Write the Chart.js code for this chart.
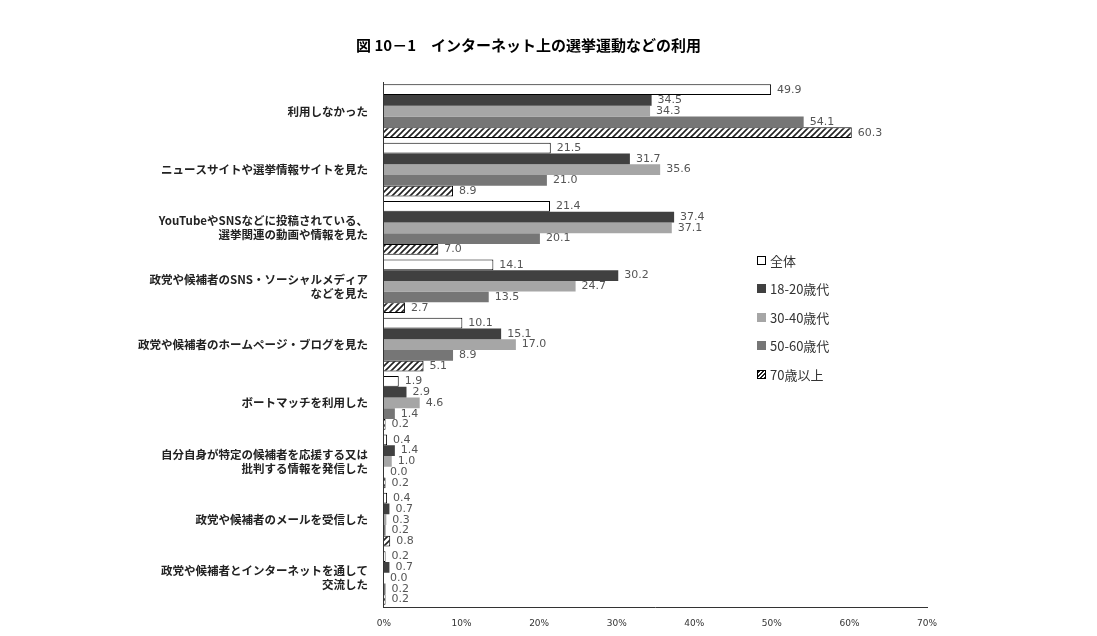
<!DOCTYPE html>
<html><head><meta charset="utf-8">
<script src="https://cdn.jsdelivr.net/npm/chart.js@4"></script>
<style>
body{margin:0;background:#fff;font-family:"Noto Sans CJK JP",sans-serif}
#wrap{position:relative;width:1097px;height:636px}
#legend{position:absolute;left:757px;top:246px;font-size:13px;color:#333}
#legend div{height:28.5px;display:flex;align-items:center}
#legend span{display:inline-block;width:9px;height:9px;margin-right:4px;border:1px solid #000;box-sizing:border-box}
</style></head><body>
<div id="wrap"><canvas id="c" width="1097" height="636"></canvas>
<div id="legend"></div></div>
<script>
const categories = [
  "利用しなかった",
  "ニュースサイトや選挙情報サイトを見た",
  ["YouTubeやSNSなどに投稿されている、", "選挙関連の動画や情報を見た"],
  ["政党や候補者のSNS・ソーシャルメディア", "などを見た"],
  "政党や候補者のホームページ・ブログを見た",
  "ボートマッチを利用した",
  ["自分自身が特定の候補者を応援する又は", "批判する情報を発信した"],
  "政党や候補者のメールを受信した",
  ["政党や候補者とインターネットを通して", "交流した"]
];
const seriesNames = ["全体", "18-20歳代", "30-40歳代", "50-60歳代", "70歳以上"];
const allAges = [49.9, 21.5, 21.4, 14.1, 10.1, 1.9, 0.4, 0.4, 0.2];
const age1820 = [34.5, 31.7, 37.4, 30.2, 15.1, 2.9, 1.4, 0.7, 0.7];
const age3040 = [34.3, 35.6, 37.1, 24.7, 17.0, 4.6, 1.0, 0.3, 0.0];
const age5060 = [54.1, 21.0, 20.1, 13.5, 8.9, 1.4, 0.0, 0.2, 0.2];
const age70 = [60.3, 8.9, 7.0, 2.7, 5.1, 0.2, 0.2, 0.8, 0.2];
const xTicks = [0, 10, 20, 30, 40, 50, 60, 70];

// 斜線パターン
function hatch() {
  const p = document.createElement('canvas');
  p.width = 6; p.height = 6;
  const g = p.getContext('2d');
  g.fillStyle = '#fff'; g.fillRect(0, 0, 6, 6);
  g.strokeStyle = '#222'; g.lineWidth = 1.6;
  g.beginPath(); g.moveTo(0, 6); g.lineTo(6, 0); g.moveTo(-3, 3); g.lineTo(3, -3); g.moveTo(3, 9); g.lineTo(9, 3); g.stroke();
  return g.createPattern(p, 'repeat');
}
const ctx = document.getElementById('c').getContext('2d');
const fills = ['#ffffff', '#404040', '#a6a6a6', '#767676', hatch()];
const datas = [allAges, age1820, age3040, age5060, age70];

const valueLabels = {
  id: 'valueLabels',
  afterDatasetsDraw(chart) {
    const c = chart.ctx;
    c.save();
    c.font = '11px "DejaVu Sans"';
    c.fillStyle = '#555';
    c.textBaseline = 'middle';
    chart.data.datasets.forEach((ds, i) => {
      chart.getDatasetMeta(i).data.forEach((bar, j) => {
        c.fillText(ds.data[j].toFixed(1), bar.x + 6, bar.y);
      });
    });
    c.restore();
  }
};

new Chart(ctx, {
  type: 'bar',
  data: {
    labels: categories,
    datasets: seriesNames.map((n, i) => ({
      label: n, data: datas[i], backgroundColor: fills[i],
      borderColor: i === 0 || i === 4 ? '#000' : fills[i],
      borderWidth: i === 0 || i === 4 ? 1 : 0
    }))
  },
  options: {
    indexAxis: 'y',
    responsive: false,
    animation: false,
    categoryPercentage: 0.92,
    barPercentage: 1,
    layout: { padding: { left: 130, right: 170, top: 8, bottom: 4 } },
    plugins: {
      legend: { display: false },
      tooltip: { enabled: false },
      title: {
        display: true, text: '図 10－1　インターネット上の選挙運動などの利用',
        font: { size: 15, weight: 'bold', family: '"Noto Sans CJK JP"' },
        color: '#000', padding: { top: 28, bottom: 28 }
      }
    },
    scales: {
      x: {
        min: 0, max: 70,
        afterBuildTicks(ax) { ax.ticks = xTicks.map(v => ({ value: v })); },
        ticks: { callback: v => v + '%', font: { size: 9, family: '"DejaVu Sans"' }, color: '#333' },
        grid: { display: false },
        border: { color: '#333' }
      },
      y: {
        ticks: { font: { size: 11.5, weight: 'bold', family: '"Noto Sans CJK JP"' }, color: '#222', padding: 8 },
        grid: { display: false },
        border: { color: '#333' }
      }
    }
  },
  plugins: [valueLabels]
});

const lg = document.getElementById('legend');
seriesNames.forEach((n, i) => {
  const d = document.createElement('div');
  const s = document.createElement('span');
  if (i === 4) s.style.background = 'repeating-linear-gradient(135deg,#222 0 1.5px,#fff 1.5px 3px)';
  else s.style.background = fills[i];
  if (i === 1 || i === 2 || i === 3) s.style.borderColor = fills[i];
  d.appendChild(s); d.appendChild(document.createTextNode(n));
  lg.appendChild(d);
});
</script></body></html>
